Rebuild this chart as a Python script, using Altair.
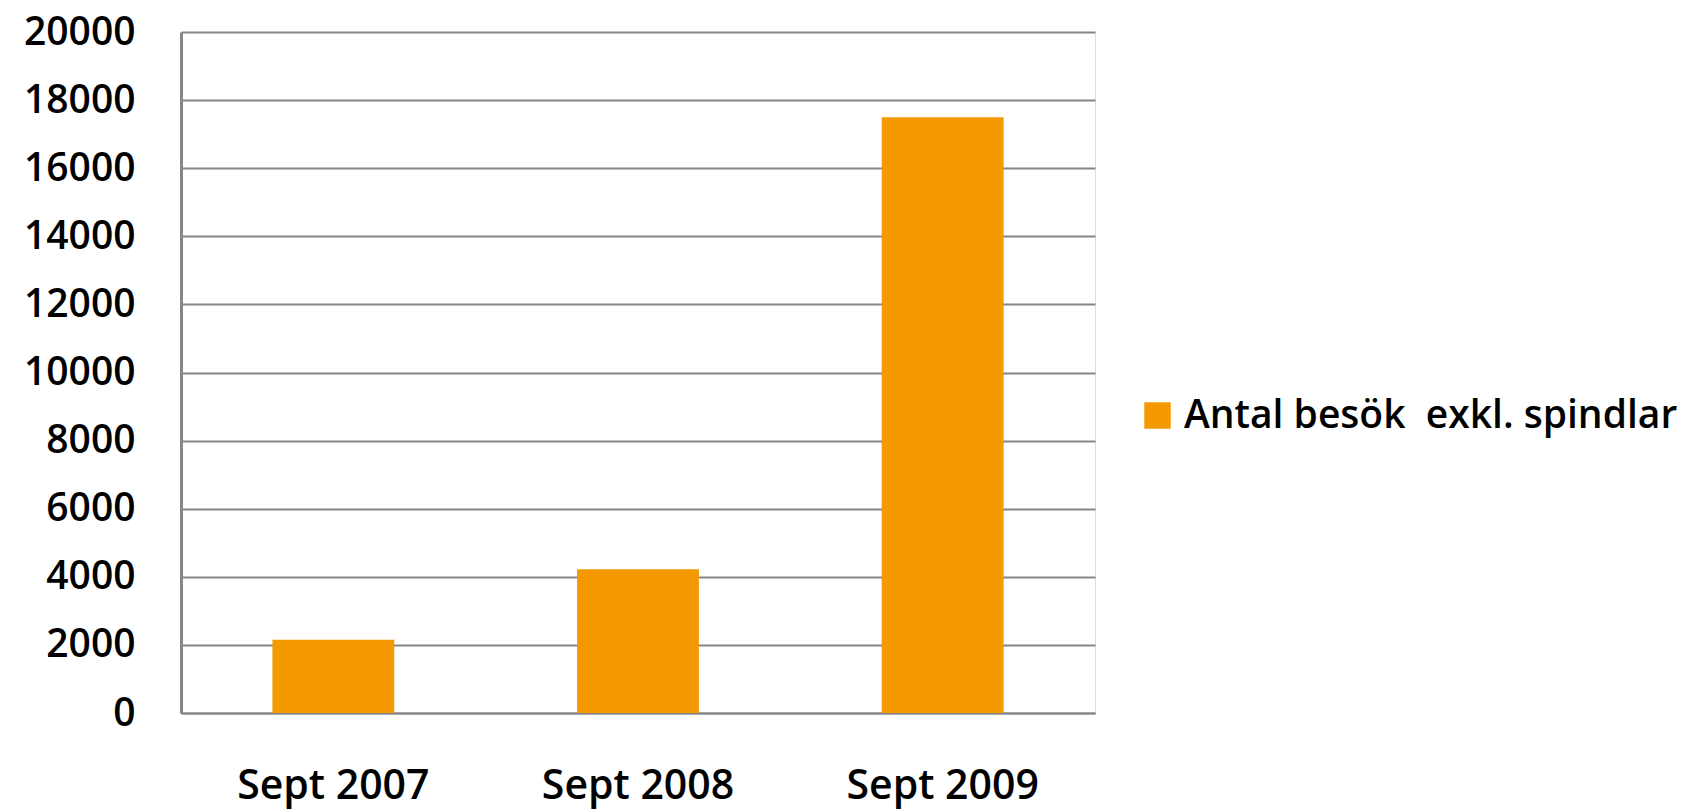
import altair as alt
import pandas as pd

categories = ["Sept 2007", "Sept 2008", "Sept 2009"]
values = [2150, 4220, 17500]
series = "Antal besök\u00a0 exkl. spindlar"

df = pd.DataFrame({"period": categories, "visits": values, "series": [series] * 3})

FONT = "Open Sans"
FW = 600

chart = alt.Chart(df).mark_bar(color="#F49A00").encode(
    x=alt.X("period:N", sort=categories, title=None,
            scale=alt.Scale(paddingInner=0.6, paddingOuter=0.3),
            axis=alt.Axis(labelAngle=0, ticks=False, labelPadding=53, labelLimit=400,
                          labelFontSize=41, labelFont=FONT, labelFontWeight=FW,
                          labelColor="#000000",
                          domainColor="#868686", domainWidth=2, grid=False)),
    y=alt.Y("visits:Q", title=None,
            scale=alt.Scale(domain=[0, 20000], nice=False),
            axis=alt.Axis(values=list(range(0, 20001, 2000)), format="d", ticks=False,
                          labelPadding=46, labelFontSize=39, labelFont=FONT,
                          labelFontWeight=FW,
                          labelColor="#000000", domainColor="#868686", domainWidth=3,
                          gridColor="#868686", gridWidth=2, gridOpacity=1)),
    color=alt.Color("series:N", scale=alt.Scale(range=["#F49A00"]),
                    legend=alt.Legend(title=None, orient="none", legendX=957, legendY=364,
                                      symbolType="square", symbolSize=700,
                                      symbolStrokeWidth=0, symbolOpacity=1,
                                      labelFontSize=39, labelFont=FONT, labelFontWeight=FW,
                                      labelColor="#000000",
                                      labelOffset=7, padding=0, labelLimit=800)),
).properties(
    width=914, height=681,
    autosize=alt.AutoSizeParams(type="none"),
    padding={"left": 173, "top": 24, "right": 596, "bottom": 100},
).configure_view(strokeWidth=0, stroke="transparent").configure(background="#ffffff")

chart.save("out.html", embed_options={"renderer": "svg", "actions": False})
